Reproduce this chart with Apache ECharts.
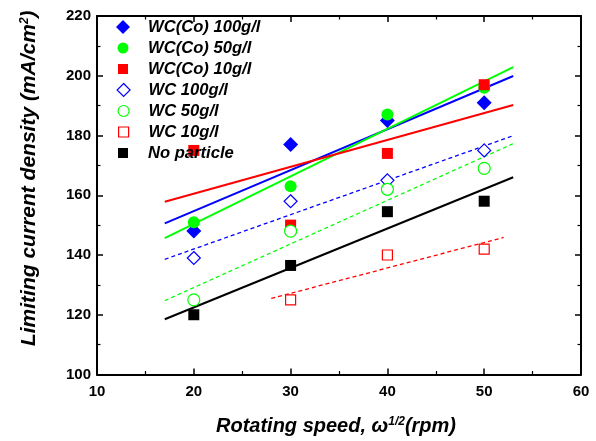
<!DOCTYPE html>
<html><head><meta charset="utf-8">
<script src="https://cdn.jsdelivr.net/npm/echarts@6/dist/echarts.min.js"></script>
<style>html,body{margin:0;padding:0;background:#fff}#c{width:596px;height:441px}</style>
</head><body><div id="c"></div>
<script>
// ---- data ----
const speeds = [20, 30, 40, 50];
const wcCo100 = [148, 177, 185, 191];
const wcCo50 = [151, 163, 187, 196];
const wcCo10 = [175, 150, 174, 197];
const wc100 = [139, 158, 165, 175];
const wc50 = [125, 148, 162, 169];
const wc10Speeds = [30, 40, 50];
const wc10 = [125, 140, 142];
const noParticle = [120, 136.5, 154.5, 158];
const fitRange = [17, 53];
const fitRangeWc10 = [28, 52];
const xTicks = [10, 20, 30, 40, 50, 60];
const yTicks = [100, 120, 140, 160, 180, 200, 220];

function fit(xs, ys, r) {
  const n = xs.length;
  const mx = xs.reduce((a, b) => a + b, 0) / n;
  const my = ys.reduce((a, b) => a + b, 0) / n;
  let sxy = 0, sxx = 0;
  for (let i = 0; i < n; i++) { sxy += (xs[i] - mx) * (ys[i] - my); sxx += (xs[i] - mx) ** 2; }
  const b = sxy / sxx, a = my - b * mx;
  return r.map(x => [x, a + b * x]);
}
const pts = (xs, ys) => xs.map((x, i) => [x, ys[i]]);

const FONT = '"Liberation Sans", Arial, sans-serif';
const BLUE = '#0000FF', GREEN = '#00FF00', RED = '#FF0000', BLACK = '#000000';

const scatterDefs = [
  {name: 'WC(Co) 100g/l', xs: speeds, ys: wcCo100, symbol: 'diamond', size: 15, fill: BLUE, stroke: BLUE, lw: 0, icon: 14},
  {name: 'WC(Co) 50g/l', xs: speeds, ys: wcCo50, symbol: 'circle', size: 12, fill: GREEN, stroke: GREEN, lw: 0, icon: 11},
  {name: 'WC(Co) 10g/l', xs: speeds, ys: wcCo10, symbol: 'rect', size: 11, fill: RED, stroke: RED, lw: 0, icon: 10},
  {name: 'WC 100g/l', xs: speeds, ys: wc100, symbol: 'diamond', size: 13, fill: '#fff', stroke: BLUE, lw: 1.2, icon: 13},
  {name: 'WC 50g/l', xs: speeds, ys: wc50, symbol: 'circle', size: 12, fill: '#fff', stroke: GREEN, lw: 1.2, icon: 11},
  {name: 'WC 10g/l', xs: wc10Speeds, ys: wc10, symbol: 'rect', size: 10, fill: '#fff', stroke: RED, lw: 1.2, icon: 10},
  {name: 'No particle', xs: speeds, ys: noParticle, symbol: 'rect', size: 11, fill: BLACK, stroke: BLACK, lw: 0, icon: 10}
];
const lineDefs = [
  {xs: speeds, ys: wcCo100, r: fitRange, color: BLUE, dashed: false},
  {xs: speeds, ys: wcCo50, r: fitRange, color: GREEN, dashed: false},
  {xs: speeds, ys: wcCo10, r: fitRange, color: RED, dashed: false},
  {xs: speeds, ys: wc100, r: fitRange, color: BLUE, dashed: true},
  {xs: speeds, ys: wc50, r: fitRange, color: GREEN, dashed: true},
  {xs: wc10Speeds, ys: wc10, r: fitRangeWc10, color: RED, dashed: true},
  {xs: speeds, ys: noParticle, r: fitRange, color: BLACK, dashed: false}
];

const series = [];
lineDefs.forEach(d => series.push({
  type: 'line', data: fit(d.xs, d.ys, d.r), showSymbol: false, silent: true, z: 2,
  lineStyle: {color: d.color, width: d.dashed ? 1.3 : 2, type: d.dashed ? [4, 3] : 'solid'}
}));
scatterDefs.forEach(d => series.push({
  type: 'scatter', name: d.name, data: pts(d.xs, d.ys), symbol: d.symbol, symbolSize: d.size, z: 3,
  itemStyle: {color: d.fill, borderColor: d.stroke, borderWidth: d.lw, opacity: 1}
}));

const ICON_CX = 123, TEXT_X = 148;
const legends = scatterDefs.map((d, i) => ({
  data: [d.name], orient: 'vertical', left: ICON_CX - d.icon / 2, top: 18.5 + i * 21,
  itemWidth: d.icon, itemHeight: d.icon, itemGap: 0, selectedMode: false, padding: 0,
  textStyle: {fontFamily: FONT, fontSize: 16.6, fontWeight: 'bold', fontStyle: 'italic', color: '#000', lineHeight: 16,
    padding: [0, 0, 0, TEXT_X - (ICON_CX + d.icon / 2 + 5)]},
  itemStyle: {borderWidth: d.lw, borderColor: d.stroke, color: d.fill}
}));

const axisCommon = (min, max, interval) => ({
  type: 'value', min, max, interval,
  axisLine: {show: true, onZero: false, lineStyle: {color: '#000', width: 2}},
  axisTick: {show: true, inside: true, length: 6, lineStyle: {color: '#000', width: 1.5}},
  minorTick: {show: true, splitNumber: 2, length: 3.5, lineStyle: {color: '#000', width: 1.2}},
  splitLine: {show: false}
});

const supStyle = {fontFamily: FONT, fontSize: 12, fontWeight: 'bold', fontStyle: 'italic', verticalAlign: 'top', padding: [0, 0, 9, 0], color: '#000'};

const option = {
  animation: false,
  backgroundColor: '#fff',
  grid: {left: 97, right: 15, top: 16, bottom: 66, containLabel: false},
  legend: legends,
  xAxis: [
    Object.assign(axisCommon(xTicks[0], xTicks[xTicks.length - 1], 10), {
      position: 'bottom',
      axisLabel: {show: true, margin: 10, fontFamily: FONT, fontSize: 15, fontWeight: 'bold', color: '#000'},
      name: 'Rotating speed, ω{sup|1/2}(rpm)', nameLocation: 'middle', nameGap: 41,
      nameTextStyle: {fontFamily: FONT, fontSize: 20, fontWeight: 'bold', fontStyle: 'italic', color: '#000', padding: [0, 6, 0, 0], rich: {sup: supStyle}}
    }),
    Object.assign(axisCommon(xTicks[0], xTicks[xTicks.length - 1], 10), {position: 'top', axisLabel: {show: false}})
  ],
  yAxis: [
    Object.assign(axisCommon(yTicks[0], yTicks[yTicks.length - 1], 20), {
      position: 'left',
      axisLabel: {show: true, margin: 6, fontFamily: FONT, fontSize: 15, fontWeight: 'bold', color: '#000'},
      name: 'Limiting current density (mA/cm{sup|2})', nameLocation: 'middle', nameGap: 57,
      nameTextStyle: {fontFamily: FONT, fontSize: 21, fontWeight: 'bold', fontStyle: 'italic', color: '#000', padding: [0, 0, 0, 34], rich: {sup: supStyle}}
    }),
    Object.assign(axisCommon(yTicks[0], yTicks[yTicks.length - 1], 20), {position: 'right', axisLabel: {show: false}})
  ],
  series
};
const chart = echarts.init(document.getElementById('c'), null, {renderer: 'canvas'});
chart.setOption(option);
</script></body></html>
